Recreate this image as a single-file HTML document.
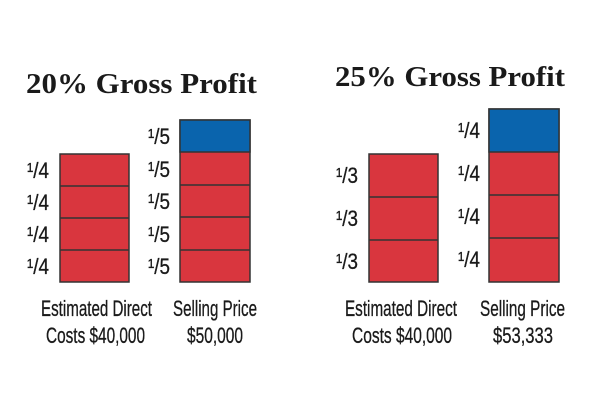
<!DOCTYPE html>
<html><head><meta charset="utf-8"><style>
html,body{margin:0;padding:0;background:#fff;}
svg{display:block;}
.t{font-family:"Liberation Serif",serif;font-weight:bold;font-size:29px;fill:#1a1a1a;}
.c{font-family:"Liberation Sans",sans-serif;font-size:22px;fill:#1a1a1a;stroke:#1a1a1a;stroke-width:0.3;}
.f{font-family:"Liberation Sans",sans-serif;font-size:22px;fill:#1a1a1a;stroke:#1a1a1a;stroke-width:0.3;}
</style></head><body>
<svg width="600" height="400" viewBox="0 0 600 400">
<text class="t" x="26" y="93" textLength="231" lengthAdjust="spacingAndGlyphs">20% Gross Profit</text>
<text class="t" x="335" y="86" textLength="230" lengthAdjust="spacingAndGlyphs">25% Gross Profit</text>
<g stroke="#333" stroke-width="1.5">
<rect x="60" y="154" width="69" height="128" fill="#d9363e"/>
<line x1="60" y1="186" x2="129" y2="186"/><line x1="60" y1="218" x2="129" y2="218"/><line x1="60" y1="250" x2="129" y2="250"/>
<rect x="180" y="120" width="70" height="162" fill="#d9363e"/>
<rect x="180" y="120" width="70" height="32" fill="#0a64ad"/>
<line x1="180" y1="185" x2="250" y2="185"/><line x1="180" y1="217" x2="250" y2="217"/><line x1="180" y1="250" x2="250" y2="250"/>
<rect x="369" y="154" width="69" height="128" fill="#d9363e"/>
<line x1="369" y1="197" x2="438" y2="197"/><line x1="369" y1="240" x2="438" y2="240"/>
<rect x="489" y="109" width="70" height="173" fill="#d9363e"/>
<rect x="489" y="109" width="70" height="43" fill="#0a64ad"/>
<line x1="489" y1="195" x2="559" y2="195"/><line x1="489" y1="238" x2="559" y2="238"/>
</g>
<g class="f">
<text x="27" y="178" textLength="22" lengthAdjust="spacingAndGlyphs">¹/4</text><text x="27" y="210" textLength="22" lengthAdjust="spacingAndGlyphs">¹/4</text><text x="27" y="242" textLength="22" lengthAdjust="spacingAndGlyphs">¹/4</text><text x="27" y="274" textLength="22" lengthAdjust="spacingAndGlyphs">¹/4</text>
<text x="148" y="144" textLength="22" lengthAdjust="spacingAndGlyphs">¹/5</text><text x="148" y="177" textLength="22" lengthAdjust="spacingAndGlyphs">¹/5</text><text x="148" y="209" textLength="22" lengthAdjust="spacingAndGlyphs">¹/5</text><text x="148" y="242" textLength="22" lengthAdjust="spacingAndGlyphs">¹/5</text><text x="148" y="274" textLength="22" lengthAdjust="spacingAndGlyphs">¹/5</text>
<text x="336" y="183" textLength="22" lengthAdjust="spacingAndGlyphs">¹/3</text><text x="336" y="226" textLength="22" lengthAdjust="spacingAndGlyphs">¹/3</text><text x="336" y="269" textLength="22" lengthAdjust="spacingAndGlyphs">¹/3</text>
<text x="458" y="138" textLength="22" lengthAdjust="spacingAndGlyphs">¹/4</text><text x="458" y="181" textLength="22" lengthAdjust="spacingAndGlyphs">¹/4</text><text x="458" y="224" textLength="22" lengthAdjust="spacingAndGlyphs">¹/4</text><text x="458" y="267" textLength="22" lengthAdjust="spacingAndGlyphs">¹/4</text>
</g>
<g class="c">
<text x="41" y="316" textLength="111" lengthAdjust="spacingAndGlyphs">Estimated Direct</text><text x="46" y="343" textLength="99" lengthAdjust="spacingAndGlyphs">Costs $40,000</text>
<text x="173" y="316" textLength="84" lengthAdjust="spacingAndGlyphs">Selling Price</text><text x="187" y="343" textLength="56" lengthAdjust="spacingAndGlyphs">$50,000</text>
<text x="345" y="316" textLength="112" lengthAdjust="spacingAndGlyphs">Estimated Direct</text><text x="352" y="343" textLength="100" lengthAdjust="spacingAndGlyphs">Costs $40,000</text>
<text x="480" y="316" textLength="85" lengthAdjust="spacingAndGlyphs">Selling Price</text><text x="493" y="343" textLength="60" lengthAdjust="spacingAndGlyphs">$53,333</text>
</g>
</svg>
</body></html>
